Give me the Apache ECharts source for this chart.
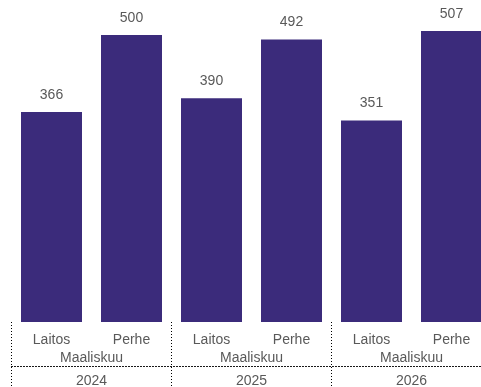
<!DOCTYPE html>
<html>
<head>
<meta charset="utf-8">
<script src="https://cdn.jsdelivr.net/npm/echarts@6/dist/echarts.min.js"></script>
<style>
  html, body { margin: 0; padding: 0; background: #fff; }
  #main { width: 481px; height: 387px; }
</style>
</head>
<body>
<div id="main"></div>
<script>
// data
var types = ['Laitos', 'Perhe', 'Laitos', 'Perhe', 'Laitos', 'Perhe'];
var months = ['Maaliskuu', 'Maaliskuu', 'Maaliskuu'];
var years = ['2024', '2025', '2026'];
var values = [366, 500, 390, 492, 351, 507];

var textColor = '#595959';
var font = 'Liberation Sans, Arial, sans-serif';
var dotted = { type: [1, 2], color: '#000', width: 1 };

var chart = echarts.init(document.getElementById('main'));

var option = {
    animation: false,
    grid: { left: 11.5, width: 480, top: 0, bottom: 65, outerBoundsMode: 'none', containLabel: false },
    xAxis: [
        {
            type: 'category',
            data: types,
            position: 'bottom',
            axisLine: { show: false },
            axisTick: { show: false },
            axisLabel: { color: textColor, fontSize: 14, fontFamily: font, margin: 11, interval: 0 }
        },
        {
            type: 'category',
            data: months,
            position: 'bottom',
            axisLine: { show: false },
            axisTick: { show: true, interval: 0, length: 65, lineStyle: dotted },
            axisLabel: { color: textColor, fontSize: 14, fontFamily: font, margin: 29, interval: 0 }
        },
        {
            type: 'category',
            data: years,
            position: 'bottom',
            offset: 44,
            axisLine: { show: true, lineStyle: dotted },
            axisTick: { show: false },
            axisLabel: { color: textColor, fontSize: 14, fontFamily: font, margin: 8, interval: 0 }
        }
    ],
    yAxis: {
        type: 'value',
        min: 0,
        max: 561,
        show: false
    },
    series: [
        {
            type: 'bar',
            xAxisIndex: 0,
            data: values,
            barWidth: 61,
            itemStyle: { color: '#3b2b7b' },
            label: {
                show: true,
                position: 'top',
                distance: 10,
                color: textColor,
                fontSize: 14,
                fontFamily: font
            }
        }
    ]
};

chart.setOption(option);
</script>
</body>
</html>
